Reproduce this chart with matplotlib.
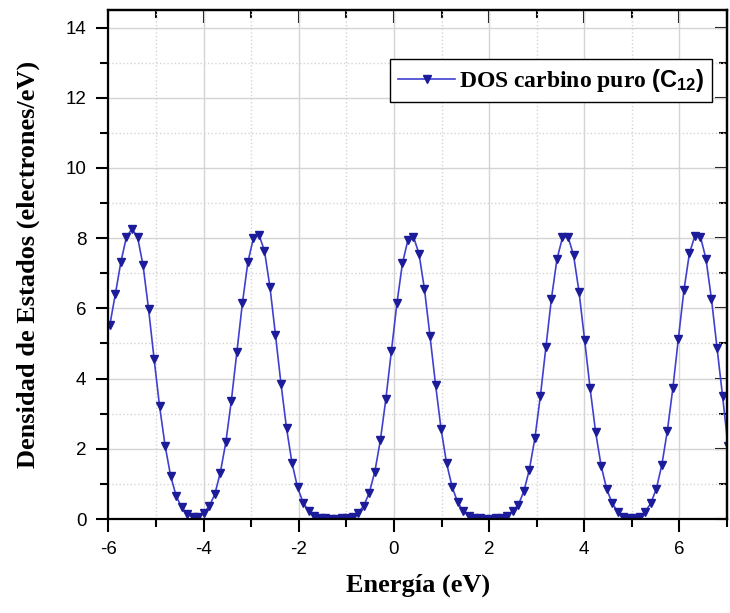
import matplotlib
matplotlib.use("Agg")
import matplotlib.pyplot as plt
from matplotlib.ticker import MultipleLocator

# Energy grid (eV)
energia = [
    -5.970, -5.854, -5.738, -5.622, -5.506, -5.390, -5.274, -5.158, -5.042, -4.926,
    -4.810, -4.694, -4.578, -4.462, -4.346, -4.230, -4.114, -3.998, -3.882, -3.766,
    -3.650, -3.534, -3.418, -3.302, -3.186, -3.070, -2.954, -2.838, -2.722, -2.606,
    -2.490, -2.374, -2.258, -2.142, -2.026, -1.910, -1.794, -1.678, -1.562, -1.446,
    -1.330, -1.214, -1.098, -0.982, -0.866, -0.750, -0.634, -0.518, -0.402, -0.286,
    -0.170, -0.054, 0.062, 0.178, 0.294, 0.410, 0.526, 0.642, 0.758, 0.874,
    0.990, 1.106, 1.222, 1.338, 1.454, 1.570, 1.686, 1.802, 1.918, 2.034,
    2.150, 2.266, 2.382, 2.498, 2.614, 2.730, 2.846, 2.962, 3.078, 3.194,
    3.310, 3.426, 3.542, 3.658, 3.774, 3.890, 4.006, 4.122, 4.238, 4.354,
    4.470, 4.586, 4.702, 4.818, 4.934, 5.050, 5.166, 5.282, 5.398, 5.514,
    5.630, 5.746, 5.862, 5.978, 6.094, 6.210, 6.326, 6.442, 6.558, 6.674,
    6.790, 6.906, 7.022,
]

# DOS values (electrones/eV)
dos = [
    5.54, 6.42, 7.33, 8.04, 8.26, 8.04, 7.23, 5.99, 4.57, 3.21,
    2.09, 1.23, 0.66, 0.33, 0.13, 0.05, 0.05, 0.16, 0.37, 0.70,
    1.32, 2.18, 3.37, 4.75, 6.14, 7.32, 8.00, 8.10, 7.64, 6.61,
    5.24, 3.85, 2.59, 1.59, 0.90, 0.47, 0.23, 0.08, 0.03, 0.02,
    0.01, 0.01, 0.02, 0.04, 0.07, 0.18, 0.38, 0.75, 1.35, 2.24,
    3.42, 4.78, 6.14, 7.28, 7.95, 8.04, 7.56, 6.54, 5.21, 3.83,
    2.57, 1.59, 0.92, 0.48, 0.23, 0.09, 0.04, 0.02, 0.01, 0.01,
    0.02, 0.04, 0.09, 0.23, 0.40, 0.79, 1.41, 2.30, 3.51, 4.90,
    6.28, 7.40, 8.02, 8.04, 7.52, 6.47, 5.11, 3.73, 2.48, 1.52,
    0.86, 0.45, 0.21, 0.07, 0.03, 0.02, 0.07, 0.21, 0.45, 0.86,
    1.54, 2.51, 3.73, 5.14, 6.51, 7.57, 8.07, 8.04, 7.41, 6.26,
    4.88, 3.51, 2.07,
]

plt.rcParams['axes.unicode_minus'] = False
plt.rcParams['mathtext.fontset'] = 'custom'
plt.rcParams['mathtext.sf'] = 'Liberation Sans:bold'
plt.rcParams['mathtext.rm'] = 'Liberation Serif:bold'

fig = plt.figure(figsize=(7.30, 6.13), dpi=100)
ax = fig.add_axes([0.1486, 0.1533, 0.8473, 0.8304])

ax.plot(energia, dos, color='#4040d0', lw=1.2, marker='v', markersize=5.5,
        markerfacecolor='#1c1c9a', markeredgecolor='#1c1c9a',
        label=r'DOS carbino puro $\mathsf{(C_{12})}$')

ax.set_xlim(-6, 7)
ax.set_ylim(0, 14.5)
ax.xaxis.set_major_locator(MultipleLocator(2))
ax.xaxis.set_minor_locator(MultipleLocator(1))
ax.yaxis.set_major_locator(MultipleLocator(2))
ax.yaxis.set_minor_locator(MultipleLocator(1))

ax.grid(which='major', color='#d4d4d4', lw=1.0, ls='-')
ax.grid(which='minor', color='#d4d4d4', lw=1.0, ls=':')
ax.set_axisbelow(True)

for s in ax.spines.values():
    s.set_linewidth(1.6)
    s.set_color('black')

# bottom/left ticks outside, top/right ticks inside
ax.tick_params(which='major', direction='out', length=9, width=1.5,
               labelsize=13.5, pad=7)
ax.tick_params(which='minor', direction='out', length=6, width=1.5)

sec_x = ax.secondary_xaxis('top')
sec_x.xaxis.set_major_locator(MultipleLocator(2))
sec_x.xaxis.set_minor_locator(MultipleLocator(1))
sec_x.tick_params(which='major', direction='in', length=9, width=1.5, labeltop=False)
sec_x.tick_params(which='minor', direction='in', length=6, width=1.5)
sec_x.spines['top'].set_linewidth(1.6)
sec_y = ax.secondary_yaxis('right')
sec_y.yaxis.set_major_locator(MultipleLocator(2))
sec_y.yaxis.set_minor_locator(MultipleLocator(1))
sec_y.tick_params(which='major', direction='in', length=9, width=1.5, labelright=False)
sec_y.tick_params(which='minor', direction='in', length=6, width=1.5)
sec_y.spines['right'].set_linewidth(1.6)

for lbl in ax.get_xticklabels() + ax.get_yticklabels():
    lbl.set_family('Liberation Sans')

ax.set_xlabel('Energía (eV)', family='Liberation Serif', weight='bold', fontsize=19, labelpad=11)
ax.set_ylabel('Densidad de Estados (electrones/eV)', family='Liberation Serif',
              weight='bold', fontsize=19, labelpad=18)

leg = ax.legend(loc='upper right', bbox_to_anchor=(0.976, 0.904), borderaxespad=0,
                numpoints=1, handlelength=2.4, handletextpad=0.15, borderpad=0.35,
                fancybox=False, framealpha=1,
                prop={'family': 'Liberation Serif', 'weight': 'bold', 'size': 17})
leg.get_frame().set_edgecolor('black')
leg.get_frame().set_linewidth(1.0)

fig.savefig('out.png', dpi=100)
